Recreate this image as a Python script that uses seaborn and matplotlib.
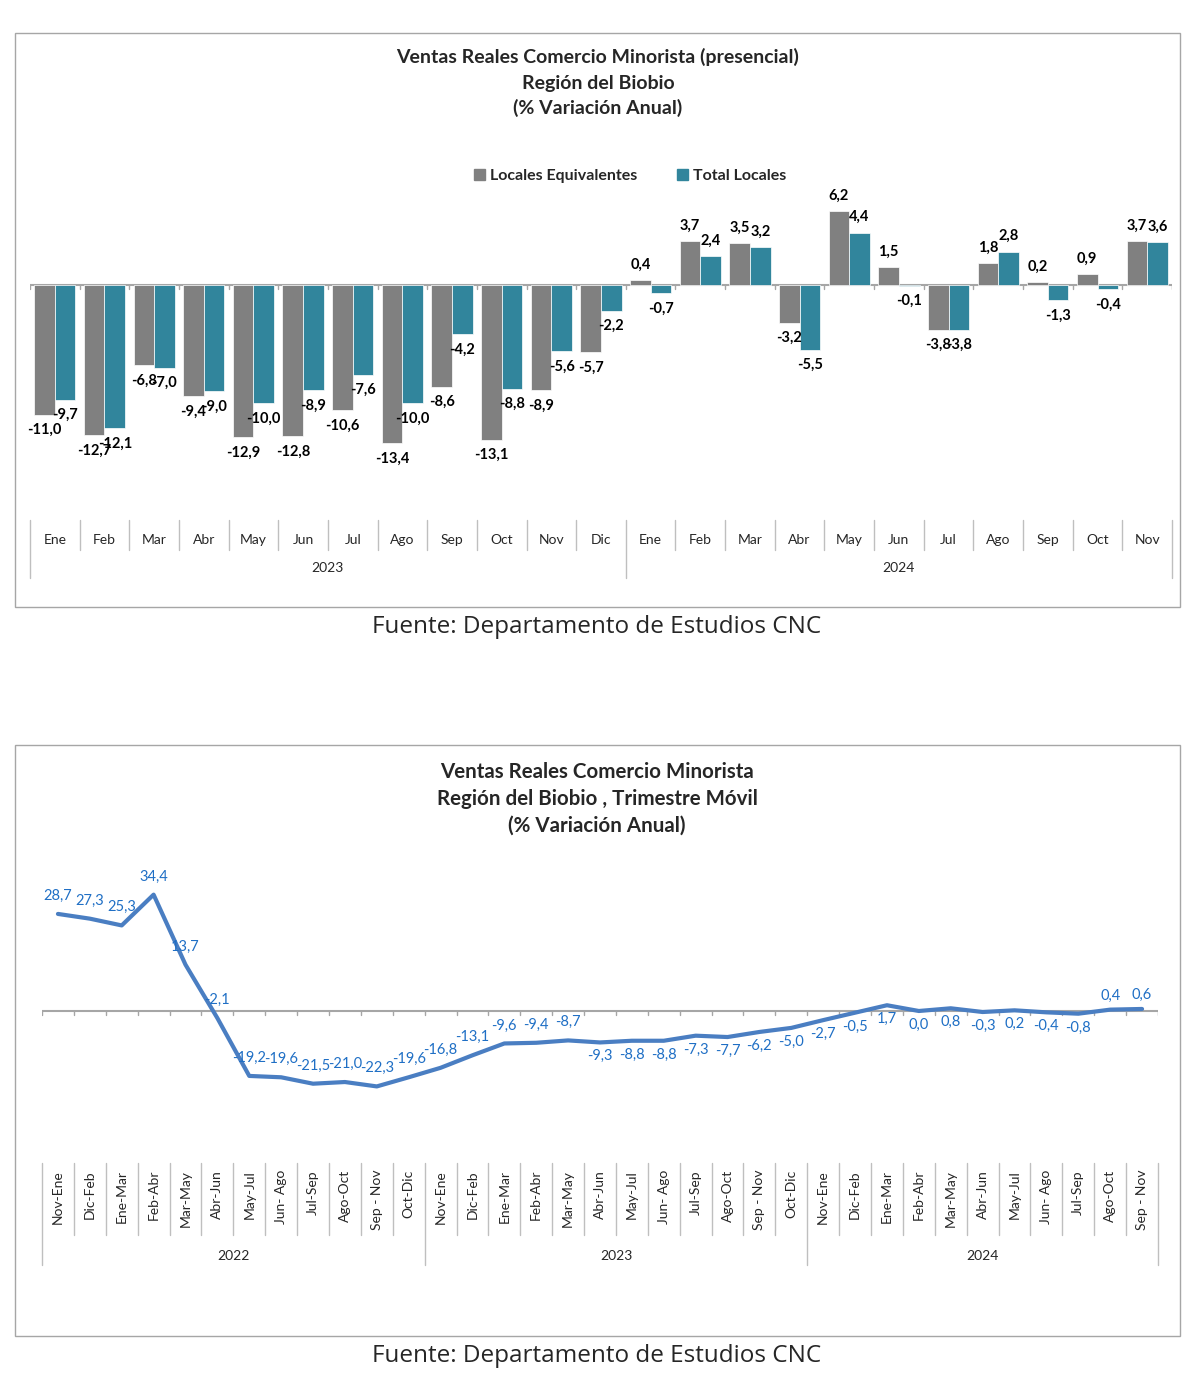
import numpy as np
import pandas as pd
import seaborn as sns
import matplotlib.pyplot as plt
from matplotlib.patches import Rectangle
from matplotlib.transforms import blended_transform_factory

# datos grafico 1 (barras)
meses = ['Ene', 'Feb', 'Mar', 'Abr', 'May', 'Jun', 'Jul', 'Ago', 'Sep', 'Oct', 'Nov', 'Dic',
         'Ene', 'Feb', 'Mar', 'Abr', 'May', 'Jun', 'Jul', 'Ago', 'Sep', 'Oct', 'Nov']
anios_barras = ['2023', '2024']
locales_equiv = [-11.0, -12.7, -6.8, -9.4, -12.9, -12.8, -10.6, -13.4, -8.6, -13.1, -8.9, -5.7,
                 0.4, 3.7, 3.5, -3.2, 6.2, 1.5, -3.8, 1.8, 0.2, 0.9, 3.7]
total_locales = [-9.7, -12.1, -7.0, -9.0, -10.0, -8.9, -7.6, -10.0, -4.2, -8.8, -5.6, -2.2,
                 -0.7, 2.4, 3.2, -5.5, 4.4, -0.1, -3.8, 2.8, -1.3, -0.4, 3.6]

# datos grafico 2 (trimestre movil)
trimestres = ['Nov-Ene', 'Dic-Feb', 'Ene-Mar', 'Feb-Abr', 'Mar-May', 'Abr-Jun', 'May-Jul',
              'Jun- Ago', 'Jul-Sep', 'Ago-Oct', 'Sep - Nov', 'Oct-Dic',
              'Nov-Ene', 'Dic-Feb', 'Ene-Mar', 'Feb-Abr', 'Mar-May', 'Abr-Jun', 'May-Jul',
              'Jun- Ago', 'Jul-Sep', 'Ago-Oct', 'Sep - Nov', 'Oct-Dic',
              'Nov-Ene', 'Dic-Feb', 'Ene-Mar', 'Feb-Abr', 'Mar-May', 'Abr-Jun', 'May-Jul',
              'Jun- Ago', 'Jul-Sep', 'Ago-Oct', 'Sep - Nov']
anios_linea = ['2022', '2023', '2024']
var_trimestral = [28.7, 27.3, 25.3, 34.4, 13.7, -2.1, -19.2, -19.6, -21.5, -21.0, -22.3, -19.6,
                  -16.8, -13.1, -9.6, -9.4, -8.7, -9.3, -8.8, -8.8, -7.3, -7.7, -6.2, -5.0,
                  -2.7, -0.5, 1.7, 0.0, 0.8, -0.3, 0.2, -0.4, -0.8, 0.4, 0.6]
# posicion de etiqueta: a = arriba, b = abajo
pos_etiqueta = ['a'] * 17 + ['b'] * 16 + ['a'] * 2

W, H = 1200, 1379
fx = lambda x: x / W
fy = lambda y: 1 - y / H
fmt = lambda v: f"{v:.1f}".replace('.', ',')

sns.set_style('white')
plt.rcParams['font.family'] = ['Lato', 'DejaVu Sans']

GRIS = '#808080'
TEAL = '#31859C'
SEP = '#bfbfbf'

fig = plt.figure(figsize=(12, 13.79), dpi=100)

# marcos
for (x0, y0, x1, y1) in [(15, 33, 1180, 607), (15, 745, 1180, 1336)]:
    fig.add_artist(Rectangle((fx(x0), fy(y1)), fx(x1) - fx(x0), fy(y0) - fy(y1),
                             transform=fig.transFigure, fill=False, ec='#a6a6a6', lw=1))

# ---------- grafico 1 ----------
ax1 = fig.add_axes([fx(30), fy(515), fx(1172) - fx(30), fy(190) - fy(515)])
etiquetas = [f"{m} {anios_barras[0] if i < 12 else anios_barras[1]}" for i, m in enumerate(meses)]
df = pd.DataFrame({
    'mes': etiquetas * 2,
    'valor': locales_equiv + total_locales,
    'serie': ['Locales Equivalentes'] * len(meses) + ['Total Locales'] * len(meses),
})
sns.barplot(data=df, x='mes', y='valor', hue='serie', palette=[GRIS, TEAL], width=0.83,
            errorbar=None, ax=ax1, edgecolor='white', linewidth=0.5, legend=False,
            saturation=1)
for cont in ax1.containers:
    ax1.bar_label(cont, fmt=fmt, padding=6, fontsize=10.5, fontweight='bold', color='black')
ax1.set_xlim(-0.5, len(meses) - 0.5)
ax1.set_ylim(-19.45, 8.0)
ax1.axhline(0, color='#a6a6a6', lw=1.5, zorder=0)
for i in range(len(meses) + 1):
    ax1.plot([i - 0.5, i - 0.5], [0, -0.4], color='#a6a6a6', lw=1)
ax1.axis('off')

tr1 = blended_transform_factory(ax1.transData, fig.transFigure)
for i in range(len(meses) + 1):
    largo = i in (0, 12, len(meses))
    ax1.plot([i - 0.5, i - 0.5], [fy(520), fy(578 if largo else 550)], color=SEP, lw=1,
             transform=tr1, clip_on=False)
for i, m in enumerate(meses):
    ax1.text(i, fy(540), m, transform=tr1, ha='center', va='center', fontsize=10)
ax1.text(5.5, fy(568), anios_barras[0], transform=tr1, ha='center', va='center', fontsize=10)
ax1.text(17, fy(568), anios_barras[1], transform=tr1, ha='center', va='center', fontsize=10)

for y, t in zip([57, 83, 108], ['Ventas Reales Comercio Minorista (presencial)',
                                'Región del Biobio', '(% Variación Anual)']):
    fig.text(fx(598), fy(y), t, ha='center', va='center', fontsize=14, fontweight='bold')

handles = [Rectangle((0, 0), 1, 1, color=GRIS), Rectangle((0, 0), 1, 1, color=TEAL)]
leg = fig.legend(handles, ['Locales Equivalentes', 'Total Locales'], loc='center',
                 bbox_to_anchor=(fx(630), fy(176)), ncol=2, frameon=False,
                 handlelength=0.7, handleheight=0.7, handletextpad=0.3, columnspacing=2.5,
                 prop={'weight': 'bold', 'size': 11.5})

fig.text(fx(597), fy(627), 'Fuente: Departamento de Estudios CNC', ha='center', va='center',
         fontsize=17.5, family=['Open Sans', 'DejaVu Sans'])

# ---------- grafico 2 ----------
ax2 = fig.add_axes([fx(42), fy(1150), fx(1158) - fx(42), fy(850) - fy(1150)])
x = np.arange(len(trimestres))
sns.lineplot(x=x, y=var_trimestral, color='#4A7EC2', lw=3, ax=ax2)
ax2.set_xlim(-0.5, len(trimestres) - 0.5)
ax2.set_ylim(-41.1, 47.6)
ax2.axhline(0, color='#a6a6a6', lw=1.5, zorder=0)
for i in range(len(trimestres) + 1):
    ax2.plot([i - 0.5, i - 0.5], [0, -1.3], color='#a6a6a6', lw=1, zorder=0)
for xi, v, p in zip(x, var_trimestral, pos_etiqueta):
    off = 13 if p == 'a' else -10
    if xi >= 33:
        off = 10
    ax2.annotate(fmt(v), (xi, v), xytext=(0, off), textcoords='offset points',
                 ha='center', va='center', fontsize=10.5, color='#1F6FC5')
ax2.axis('off')

tr2 = blended_transform_factory(ax2.transData, fig.transFigure)
for i in range(len(trimestres) + 1):
    largo = i in (0, 12, 24, len(trimestres))
    ax2.plot([i - 0.5, i - 0.5], [fy(1163), fy(1265 if largo else 1235)], color=SEP, lw=1,
             transform=tr2, clip_on=False)
for i, t in enumerate(trimestres):
    ax2.text(i, fy(1170), t, transform=tr2, ha='center', va='top', rotation=90, fontsize=10)
for xc, a in zip([5.5, 17.5, 29], anios_linea):
    ax2.text(xc, fy(1256), a, transform=tr2, ha='center', va='center', fontsize=10)

for y, t in zip([772, 799, 826], ['Ventas Reales Comercio Minorista',
                                  'Región del Biobio , Trimestre Móvil', '(% Variación Anual)']):
    fig.text(fx(597), fy(y), t, ha='center', va='center', fontsize=14.8, fontweight='bold')

fig.text(fx(597), fy(1356), 'Fuente: Departamento de Estudios CNC', ha='center', va='center',
         fontsize=17.5, family=['Open Sans', 'DejaVu Sans'])

fig.savefig('out.png', dpi=100)
